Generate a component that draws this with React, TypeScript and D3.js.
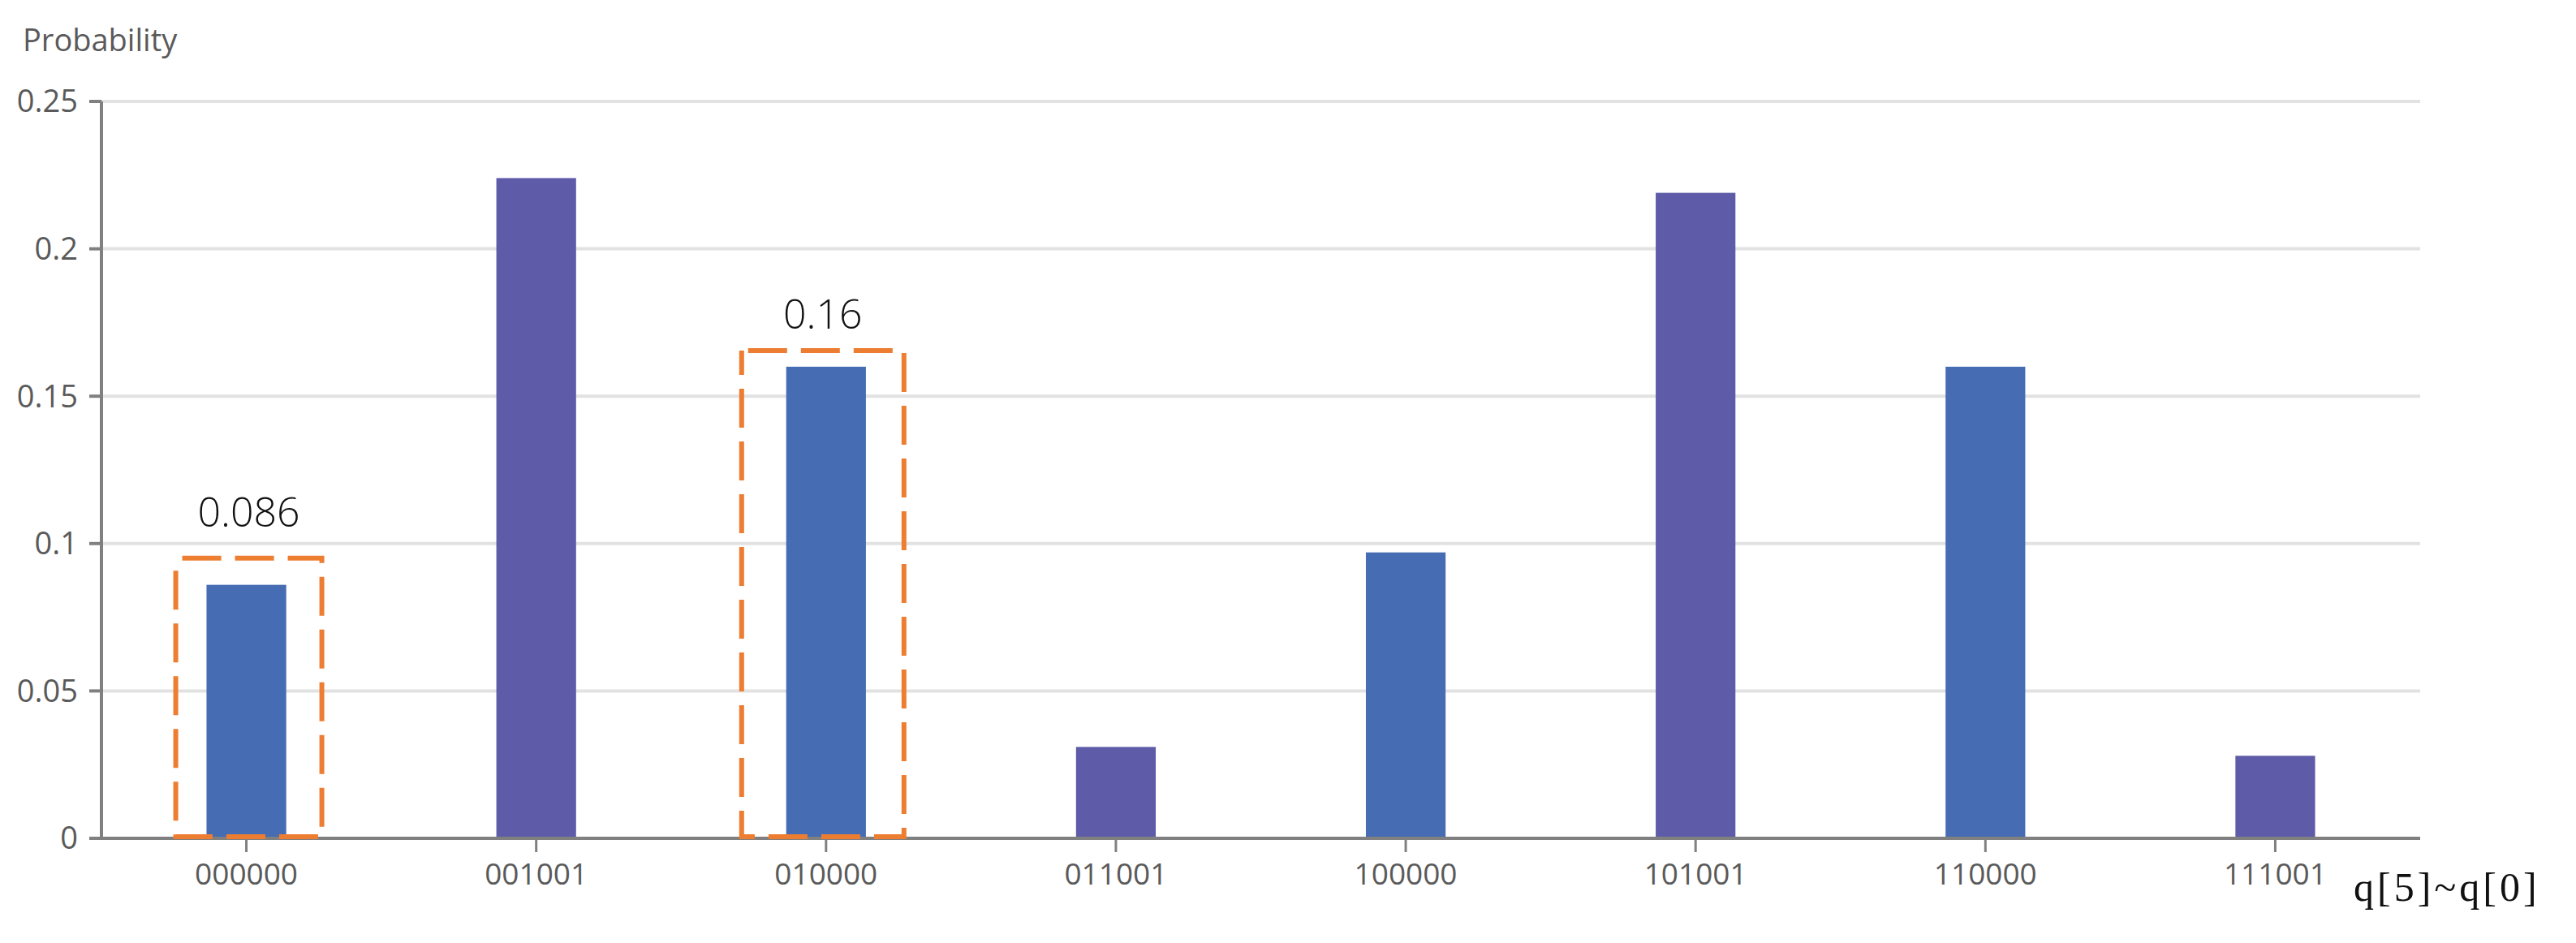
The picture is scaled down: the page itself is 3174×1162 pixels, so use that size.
import React from "react";
import * as d3 from "d3";

// measured states of q[5]..q[0]
const categories = ["000000", "001001", "010000", "011001", "100000", "101001", "110000", "111001"];
const probabilities = [0.086, 0.224, 0.16, 0.031, 0.097, 0.219, 0.16, 0.028];
const yTicks = [0, 0.05, 0.1, 0.15, 0.2, 0.25];
const yTickLabels = ["0", "0.05", "0.1", "0.15", "0.2", "0.25"];
const highlightCats = ["000000", "010000"];
const highlightLabels = ["0.086", "0.16"];

const W = 3174;
const H = 1162;
const margin = { top: 125, right: 192, bottom: 129, left: 125 };

const barColors = ["#466cb3", "#5e5ba8"];
const sans = "'Open Sans', 'Noto Sans', sans-serif";

// hand tuned box layout for the two call-outs (pixels)
const boxLayout = [
  { halfW: 90, dx: 3, topPad: 33, labelGap: 39 },
  { halfW: 100, dx: -4, topPad: 20, labelGap: 27 },
];

export default function App() {
  const x = d3
    .scaleBand()
    .domain(categories)
    .range([margin.left, W - margin.right])
    .paddingInner(0.725)
    .paddingOuter(0.3625);

  const y = d3
    .scaleLinear()
    .domain([0, 0.25])
    .range([H - margin.bottom, margin.top]);

  const x0 = margin.left;
  const x1 = W - margin.right;
  const y0 = y(0);

  return (
    <svg
      width={W}
      height={H}
      style={{ position: "absolute", left: 0, top: 0, background: "#fff" }}
    >
      {/* grid */}
      {yTicks.slice(1).map((t) => (
        <line key={t} x1={x0} x2={x1} y1={y(t)} y2={y(t)} stroke="#e2e2e2" strokeWidth={4} />
      ))}

      {/* bars */}
      {categories.map((c, i) => (
        <rect
          key={c}
          x={x(c)}
          y={y(probabilities[i])}
          width={x.bandwidth()}
          height={y0 - y(probabilities[i])}
          fill={barColors[i % 2]}
        />
      ))}

      {/* y axis */}
      <line x1={x0} x2={x0} y1={margin.top} y2={y0} stroke="#808080" strokeWidth={4} />
      {yTicks.map((t, i) => (
        <g key={t}>
          <line x1={x0 - 15} x2={x0} y1={y(t)} y2={y(t)} stroke="#808080" strokeWidth={4} />
          <text
            x={x0 - 29}
            y={y(t)}
            dy="0.35em"
            textAnchor="end"
            fontFamily={sans}
            fontSize={38}
            fill="#5a5a5a"
          >
            {yTickLabels[i]}
          </text>
        </g>
      ))}
      <text x={28} y={63} fontFamily={sans} fontSize={38} fill="#5a5a5a">
        Probability
      </text>

      {/* x axis */}
      <line x1={x0} x2={x1} y1={y0} y2={y0} stroke="#808080" strokeWidth={4} />
      {categories.map((c) => {
        const cx = (x(c) as number) + x.bandwidth() / 2;
        return (
          <g key={c}>
            <line x1={cx} x2={cx} y1={y0} y2={y0 + 17} stroke="#808080" strokeWidth={3} />
            <text
              x={cx}
              y={1090}
              textAnchor="middle"
              fontFamily={sans}
              fontSize={37}
              fill="#5a5a5a"
            >
              {c}
            </text>
          </g>
        );
      })}
      <text
        x={2900}
        y={1110}
        fontFamily="'Liberation Serif', 'DejaVu Serif', serif"
        fontSize={50}
        letterSpacing={4}
        fill="#111"
      >
        q[5]~q[0]
      </text>

      {/* call-outs */}
      {highlightCats.map((c, k) => {
        const i = categories.indexOf(c);
        const L = boxLayout[k];
        const cx = (x(c) as number) + x.bandwidth() / 2 + L.dx;
        const top = y(probabilities[i]) - L.topPad;
        return (
          <g key={c}>
            <rect
              x={cx - L.halfW}
              y={top}
              width={L.halfW * 2}
              height={y0 - 2 - top}
              fill="none"
              stroke="#ed7d31"
              strokeWidth={6}
              strokeDasharray="48 17"
              strokeDashoffset={-8}
            />
            <text
              x={cx}
              y={top - L.labelGap}
              textAnchor="middle"
              fontFamily={sans}
              fontWeight={300}
              fontSize={50}
              fill="#111"
            >
              {highlightLabels[k]}
            </text>
          </g>
        );
      })}
    </svg>
  );
}
